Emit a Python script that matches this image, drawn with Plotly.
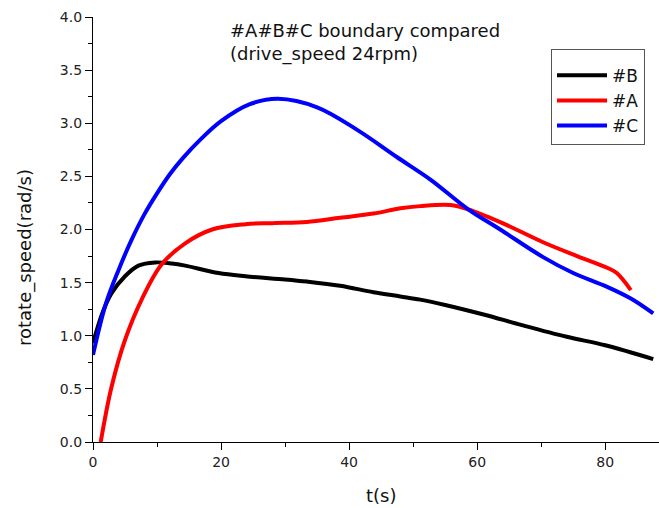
import plotly.graph_objects as go

# Series #B (black)
t_B = [0, 1.5, 2.9, 5, 7.1, 9.7, 12.3, 14.4, 19.6, 23.8, 30, 33.4, 38.6, 43.8, 48, 51.1, 55, 61, 67, 74, 80, 87.5]
v_B = [0.93, 1.22, 1.40, 1.56, 1.66, 1.69, 1.68, 1.66, 1.59, 1.56, 1.53, 1.51, 1.47, 1.41, 1.37, 1.34, 1.29, 1.20, 1.10, 0.99, 0.91, 0.78]

# Series #A (red)
t_A = [1.2, 2.9, 5, 7.6, 10.7, 14.4, 18.6, 23.8, 28, 33.4, 38.6, 43.8, 48, 51.1, 55.8, 58.6, 63.6, 70.3, 75.6, 80.3, 81.8, 84]
v_A = [0.0, 0.52, 0.96, 1.34, 1.67, 1.87, 2.0, 2.05, 2.06, 2.07, 2.11, 2.15, 2.2, 2.22, 2.23, 2.19, 2.07, 1.88, 1.75, 1.64, 1.59, 1.43]

# Series #C (blue)
t_C = [0, 2, 4, 6, 8, 10, 12, 14, 17, 20, 24.5, 28.9, 35, 41.2, 47.5, 52.7, 58.6, 63.6, 70.3, 75, 80.3, 84, 87.5]
v_C = [0.82, 1.30, 1.62, 1.90, 2.14, 2.34, 2.52, 2.67, 2.86, 3.02, 3.18, 3.23, 3.15, 2.94, 2.68, 2.47, 2.19, 2.0, 1.74, 1.59, 1.46, 1.35, 1.21]

title_lines = ["#A#B#C boundary compared", "(drive_speed 24rpm)"]
x_title = "t(s)"
y_title = "rotate_speed(rad/s)"

FONT = "DejaVu Sans"

fig = go.Figure()
series = [("#B", t_B, v_B, "#000000"), ("#A", t_A, v_A, "#ff0000"), ("#C", t_C, v_C, "#0000ff")]
for name, t, v, c in series:
    fig.add_trace(go.Scatter(x=t, y=v, mode="lines", name=name,
                             line=dict(color=c, width=4, shape="spline", smoothing=1.0)))

axis_common = dict(showgrid=False, zeroline=False, showline=True, linecolor="black", linewidth=1.3,
                   ticks="outside", tickcolor="black", tickwidth=1.3, ticklen=7,
                   tickfont=dict(family=FONT, size=14, color="#222"), mirror=False)

fig.update_xaxes(range=[0, 88.4], dtick=20, tick0=0,
                 minor=dict(ticks="outside", ticklen=4, dtick=10, tickcolor="black", tickwidth=1.3),
                 **axis_common)
fig.update_yaxes(range=[0, 4.0], dtick=0.5, tick0=0, tickformat=".1f",
                 minor=dict(ticks="outside", ticklen=4, dtick=0.25, tickcolor="black", tickwidth=1.3),
                 **axis_common)

fig.add_annotation(text=title_lines[0], xref="paper", yref="paper", x=(228 - 93) / 566, y=(442 - 30) / 425,
                   xanchor="left", yanchor="middle", showarrow=False,
                   font=dict(family=FONT, size=18, color="#111"))
fig.add_annotation(text=title_lines[1], xref="paper", yref="paper", x=(228 - 93) / 566, y=(442 - 54) / 425,
                   xanchor="left", yanchor="middle", showarrow=False,
                   font=dict(family=FONT, size=18, color="#111"))
fig.add_annotation(text=x_title, xref="paper", yref="paper", x=(381 - 93) / 566, y=(442 - 496) / 425,
                   xanchor="center", yanchor="middle", showarrow=False,
                   font=dict(family=FONT, size=18, color="#111"))
fig.add_annotation(text=y_title, xref="paper", yref="paper", x=(25 - 93) / 566, y=(442 - 258) / 425,
                   xanchor="center", yanchor="middle", textangle=-90, showarrow=False,
                   font=dict(family=FONT, size=18, color="#111"))

fig.update_layout(
    width=659, height=508,
    margin=dict(l=93, r=0, t=17, b=66),
    paper_bgcolor="white", plot_bgcolor="white",
    showlegend=True,
    legend=dict(x=(551 - 93) / 566, y=(442 - 49) / 425, xanchor="left", yanchor="top",
                bordercolor="#555", borderwidth=1, bgcolor="white",
                font=dict(family=FONT, size=17, color="#111"),
                title=dict(text=" ", font=dict(size=6)),
                itemwidth=50,
                traceorder="normal"),
)

fig.write_html("out.html", config={"displayModeBar": False},
               post_script="document.body.style.margin='0';")
